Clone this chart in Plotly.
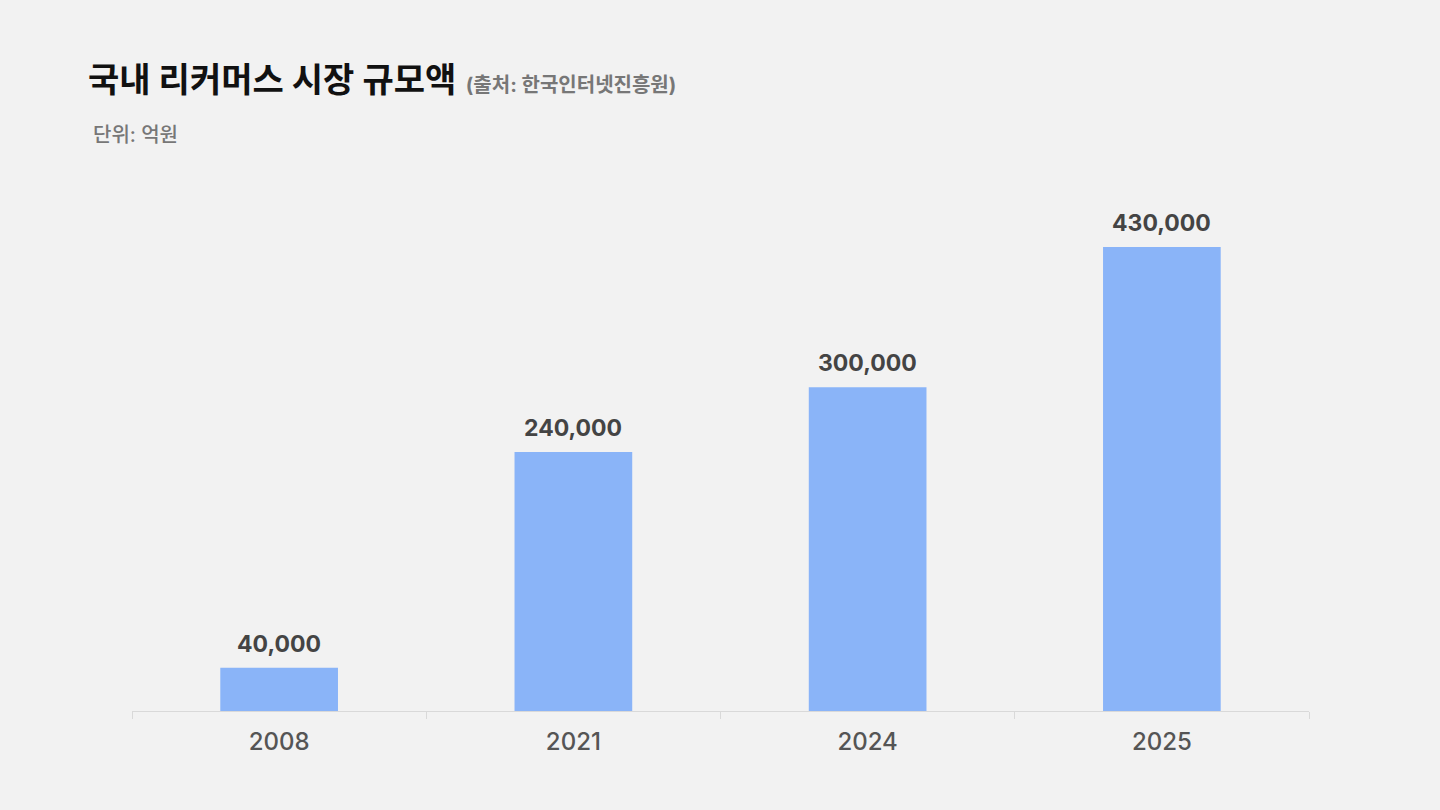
import plotly.graph_objects as go

# chart data
years = ["2008", "2021", "2024", "2025"]
market_size = [40000, 240000, 300000, 430000]  # 억원

title_main = "국내 리커머스 시장 규모액"
title_source = "(출처: 한국인터넷진흥원)"
unit_text = "단위: 억원"

FONT = "Inter, 'Noto Sans CJK KR', sans-serif"
BAR_COLOR = "#8AB4F8"
BG = "#F2F2F2"

fig = go.Figure()

fig.add_trace(
    go.Bar(
        x=years,
        y=market_size,
        marker=dict(color=BAR_COLOR, line=dict(width=0)),
        hoverinfo="skip",
    )
)

# value labels above each bar (x by category index, the axis is categorical)
for i, val in enumerate(market_size):
    fig.add_annotation(
        x=i, y=val, xref="x", yref="y",
        text=f"<b>{val:,}</b>",
        showarrow=False, yanchor="bottom", yshift=8,
        font=dict(family=FONT, size=23, color="#444444"),
    )

fig.update_layout(
    width=1440,
    height=810,
    paper_bgcolor=BG,
    plot_bgcolor=BG,
    margin=dict(l=132, r=131, t=193, b=99),
    bargap=0.6,
    showlegend=False,
    font=dict(family=FONT),
    title=dict(
        text=f"<b>{title_main}</b> <span style='font-size:20px;color:#777777'><b>{title_source}</b></span>",
        font=dict(family=FONT, size=34, color="#111111"),
        xref="container", x=88 / 1440, xanchor="left",
        yref="container", y=1 - 80 / 810, yanchor="middle",
    ),
)

fig.add_annotation(
    xref="paper", yref="paper",
    x=(91 - 132) / 1177, y=1 + (193 - 135) / 518,
    xanchor="left", yanchor="middle",
    text=unit_text, showarrow=False,
    font=dict(family=FONT, size=20, color="#777777", weight=500),
)

fig.update_xaxes(
    type="category",
    range=[-0.5, len(years) - 0.5],
    showline=True, linecolor="#D9D9D9", linewidth=1,
    ticks="outside", tickson="boundaries", ticklen=7, tickcolor="#D9D9D9",
    tickfont=dict(family=FONT, size=24, color="#555555", weight=500),
    ticklabelstandoff=9,
    tickangle=0,
    showgrid=False,
)
fig.update_yaxes(
    range=[0, 480000],
    visible=False,
    showgrid=False,
    zeroline=False,
)

fig.write_html(
    "out.html",
    config={"displayModeBar": False},
    post_script="document.body.style.margin='0';document.body.style.background='%s';" % BG,
)
